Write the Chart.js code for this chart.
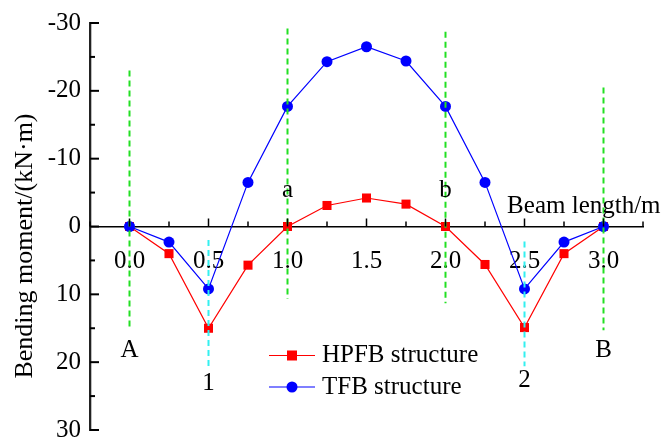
<!DOCTYPE html>
<html>
<head>
<meta charset="utf-8">
<script src="https://cdn.jsdelivr.net/npm/chart.js@4.4.1/dist/chart.umd.min.js"></script>
<style>
  body { margin: 0; background: #fff; font-family: "Liberation Serif", serif; }
</style>
</head>
<body>
<canvas id="momentChart" width="665" height="440"></canvas>
<script>
// beam positions (m) and bending moments (kN·m)
const positions = [0, 0.25, 0.5, 0.75, 1.0, 1.25, 1.5, 1.75, 2.0, 2.25, 2.5, 2.75, 3.0];
const hpfbMoment = [0, 4.0, 15.0, 5.7, 0, -3.1, -4.2, -3.3, 0, 5.6, 14.9, 4.0, 0];
const tfbMoment = [0, 2.3, 9.2, -6.5, -17.7, -24.3, -26.5, -24.4, -17.7, -6.5, 9.2, 2.3, 0];
const seriesNames = ['HPFB structure', 'TFB structure'];
const xTickLabels = [0, 0.5, 1.0, 1.5, 2.0, 2.5, 3.0];
const yTitle = 'Bending moment/(kN·m)';
const xTitle = 'Beam length/m';

// marked sections: x position, range of the dashed line, name and where the name sits
const sectionX = [0, 0.5, 1.0, 2.0, 2.5, 3.0];
const sectionType = ['support', 'load', 'middle', 'middle', 'load', 'support'];
const sectionFrom = [-23, 2, -29.2, -28.7, 2.2, -20.5];
const sectionTo = [15, 21, 10.7, 11.3, 20.6, 15.3];
const sectionName = ['A', '1', 'a', 'b', '2', 'B'];
const sectionNameAt = [19.2, 24.1, -4.3, -4.3, 23.7, 19.3];

const serif = '"Liberation Serif", "Times New Roman", serif';
const font25 = { family: serif, size: 25 };

const sectionSets = sectionX.map((sx, i) => ({
    data: [{ x: sx, y: sectionFrom[i] }, { x: sx, y: sectionTo[i] }],
    borderColor: sectionType[i] === 'load' ? '#33f0f0' : '#22e022',
    borderWidth: 2,
    borderDash: [6, 4],
    pointRadius: 0,
    order: 0
}));

const chartData = {
    datasets: [
        {
            label: seriesNames[0],
            data: positions.map((p, i) => ({ x: p, y: hpfbMoment[i] })),
            borderColor: '#ff0000',
            backgroundColor: '#ff0000',
            borderWidth: 1.2,
            pointStyle: 'rect',
            pointRadius: 6.4,
            pointBorderWidth: 0,
            order: 2
        },
        {
            label: seriesNames[1],
            data: positions.map((p, i) => ({ x: p, y: tfbMoment[i] })),
            borderColor: '#0000ff',
            backgroundColor: '#0000ff',
            borderWidth: 1.2,
            pointStyle: 'circle',
            pointRadius: 5.5,
            pointBorderWidth: 0,
            order: 1
        },
        ...sectionSets
    ]
};

// ticks, labels and legend that Chart.js does not draw the same way
const decorPlugin = {
    id: 'decor',
    afterDraw(chart) {
        const { ctx, scales: { x, y } } = chart;
        ctx.save();
        ctx.strokeStyle = '#000';
        ctx.lineWidth = 2;

        // y ticks point inward
        for (let v = -30; v <= 30; v += 5) {
            const py = y.getPixelForValue(v);
            const len = v % 10 === 0 ? 9 : 5;
            ctx.beginPath();
            ctx.moveTo(y.right, py);
            ctx.lineTo(y.right + len, py);
            ctx.stroke();
        }

        // x ticks point up from the zero line
        ctx.lineWidth = 1.5;
        const y0 = y.getPixelForValue(0);
        x.ticks.forEach(t => {
            const px = x.getPixelForValue(t.value);
            const len = Math.abs(t.value * 2 - Math.round(t.value * 2)) < 1e-6 ? 8 : 5;
            ctx.beginPath();
            ctx.moveTo(px, y0);
            ctx.lineTo(px, y0 - len);
            ctx.stroke();
        });

        ctx.fillStyle = '#000';
        ctx.font = '25px ' + serif;
        ctx.textBaseline = 'alphabetic';

        // section names
        ctx.textAlign = 'center';
        sectionName.forEach((name, i) => {
            ctx.fillText(name, x.getPixelForValue(sectionX[i]), y.getPixelForValue(sectionNameAt[i]));
        });

        // axis name next to the zero line
        ctx.textAlign = 'left';
        ctx.fillText(xTitle, x.getPixelForValue(2.39), y.getPixelForValue(-2.0));

        // legend
        const items = chart.data.datasets.slice(0, 2);
        items.forEach((ds, i) => {
            const ly = 355.5 + i * 31.5;
            ctx.strokeStyle = ds.borderColor;
            ctx.lineWidth = 1.2;
            ctx.beginPath();
            ctx.moveTo(269, ly);
            ctx.lineTo(315, ly);
            ctx.stroke();
            ctx.fillStyle = ds.backgroundColor;
            if (ds.pointStyle === 'rect') {
                ctx.fillRect(292 - 5, ly - 5, 10, 10);
            } else {
                ctx.beginPath();
                ctx.arc(292, ly, 5.5, 0, Math.PI * 2);
                ctx.fill();
            }
            ctx.fillStyle = '#000';
            ctx.fillText(ds.label, 322, ly + 6.5);
        });

        // y axis title, a bit below the middle like the original
        ctx.font = '26px ' + serif;
        ctx.textAlign = 'center';
        ctx.textBaseline = 'middle';
        ctx.translate(25, 246);
        ctx.rotate(-Math.PI / 2);
        ctx.fillText(yTitle, 0, 0);

        ctx.restore();
    }
};

function drawChart() {
    const ctx = document.getElementById('momentChart').getContext('2d');
    new Chart(ctx, {
        type: 'line',
        data: chartData,
        plugins: [decorPlugin],
        options: {
            responsive: false,
            animation: false,
            devicePixelRatio: 1,
            layout: { padding: { top: 23, right: 22, bottom: 10, left: 0 } },
            plugins: {
                legend: { display: false },
                tooltip: { enabled: false }
            },
            elements: { line: { tension: 0 } },
            scales: {
                x: {
                    type: 'linear',
                    position: { y: 0 },
                    min: -0.25,
                    max: 3.25,
                    grid: { display: false, drawTicks: false },
                    border: { display: true, color: '#000', width: 1.5 },
                    ticks: {
                        stepSize: 0.25,
                        autoSkip: false,
                        maxRotation: 0,
                        padding: 20,
                        color: '#000',
                        font: font25,
                        callback: v => xTickLabels.some(t => Math.abs(t - v) < 1e-6) ? v.toFixed(1) : ''
                    }
                },
                y: {
                    type: 'linear',
                    position: 'left',
                    reverse: true,
                    min: -30,
                    max: 30,
                    grid: { display: false, drawTicks: false },
                    border: { display: true, color: '#222', width: 2.3 },
                    ticks: { stepSize: 10, padding: 9, color: '#000', font: font25 },
                    afterFit(scale) {
                        scale.width = 90;
                        scale.paddingTop = 0;
                        scale.paddingBottom = 0;
                    }
                }
            }
        }
    });
}

document.fonts.load('25px "Liberation Serif"').then(drawChart, drawChart);
</script>
</body>
</html>
